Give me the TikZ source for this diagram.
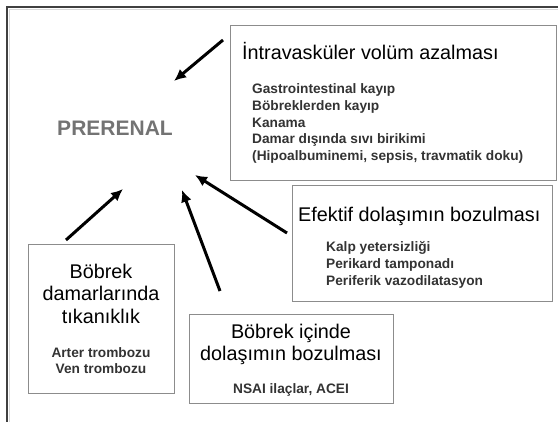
\documentclass[tikz,border=0pt]{standalone}
\usepackage{fontspec}
\setmainfont{Liberation Sans}
\usetikzlibrary{arrows.meta}
\tikzset{
  box/.style={draw=black!45, line width=1pt, anchor=north west, inner sep=0pt},
  ttl/.style={font=\fontsize{19.8}{22}\selectfont, inner sep=0pt},
  itm/.style={font=\fontsize{13.7}{16}\selectfont\bfseries, text=black!80, inner sep=0pt},
  arr/.style={-{Latex[length=12pt,width=11pt]}, line width=3pt}
}

\begin{document}
\begin{tikzpicture}[x=1pt,y=-1pt]
        \useasboundingbox (0,0) rectangle (558,422);

        % frame
        \draw[line width=0.8pt, color=black!15] (9.5,422) -- (9.5,9.5) -- (558,9.5);
        \draw[line width=2pt, color=black!75] (7,422) -- (7,7) -- (558,7);

        % main label
        \node[anchor=base, inner sep=0pt, font=\fontsize{21}{24}\selectfont\bfseries, text=black!55] (prerenal) at (115,135.5) {PRERENAL};

        % boxes
        \node[box, minimum width=326pt, minimum height=155pt] (intra) at (230,25) {};
        \node[box, minimum width=260pt, minimum height=116pt] (efektif) at (292,185) {};
        \node[box, minimum width=204pt, minimum height=89pt] (icinde) at (189,314) {};
        \node[box, minimum width=146pt, minimum height=149pt] (damar) at (28,244) {};

        % intravascular volume
        \node[ttl, anchor=base west] (intraT) at (242,60) {İntravasküler volüm azalması};
        \node[itm, anchor=base west] (intra1) at (252,94) {Gastrointestinal kayıp};
        \node[itm, anchor=base west] (intra2) at (252,111) {Böbreklerden kayıp};
        \node[itm, anchor=base west] (intra3) at (252,127.5) {Kanama};
        \node[itm, anchor=base west] (intra4) at (252,144) {Damar dışında sıvı birikimi};
        \node[itm, anchor=base west] (intra5) at (252,160.5) {(Hipoalbuminemi, sepsis, travmatik doku)};

        % effective circulation
        \node[ttl, anchor=base west] (efektifT) at (298,222) {Efektif dolaşımın bozulması};
        \node[itm, anchor=base west] (efektif1) at (326,252) {Kalp yetersizliği};
        \node[itm, anchor=base west] (efektif2) at (326,269) {Perikard tamponadı};
        \node[itm, anchor=base west] (efektif3) at (326,286) {Periferik vazodilatasyon};

        % intrarenal circulation
        \node[ttl, anchor=base] (icindeT1) at (291,339) {Böbrek içinde};
        \node[ttl, anchor=base] (icindeT2) at (291,361) {dolaşımın bozulması};
        \node[itm, anchor=base] (icinde1) at (291,394) {NSAI ilaçlar, ACEI};

        % renal vessel occlusion
        \node[ttl, anchor=base] (damarT1) at (101,278.5) {Böbrek};
        \node[ttl, anchor=base] (damarT2) at (101,301) {damarlarında};
        \node[ttl, anchor=base] (damarT3) at (101,323.5) {tıkanıklık};
        \node[itm, anchor=base] (damar1) at (101,358) {Arter trombozu};
        \node[itm, anchor=base] (damar2) at (101,374) {Ven trombozu};

        % arrow ends
        \coordinate (intraA) at (223,40);
        \coordinate (efektifA) at (287,233);
        \coordinate (icindeA) at (220,291);
        \coordinate (damarA) at (66,240);
        \coordinate (preA) at (174,81);
        \coordinate (preB) at (195,175);
        \coordinate (preC) at (182,190);
        \coordinate (preD) at (123,189);

        \draw[arr] (intraA) -- (preA);
        \draw[arr] (efektifA) -- (preB);
        \draw[arr] (icindeA) -- (preC);
        \draw[arr] (damarA) -- (preD);
\end{tikzpicture}
\end{document}
